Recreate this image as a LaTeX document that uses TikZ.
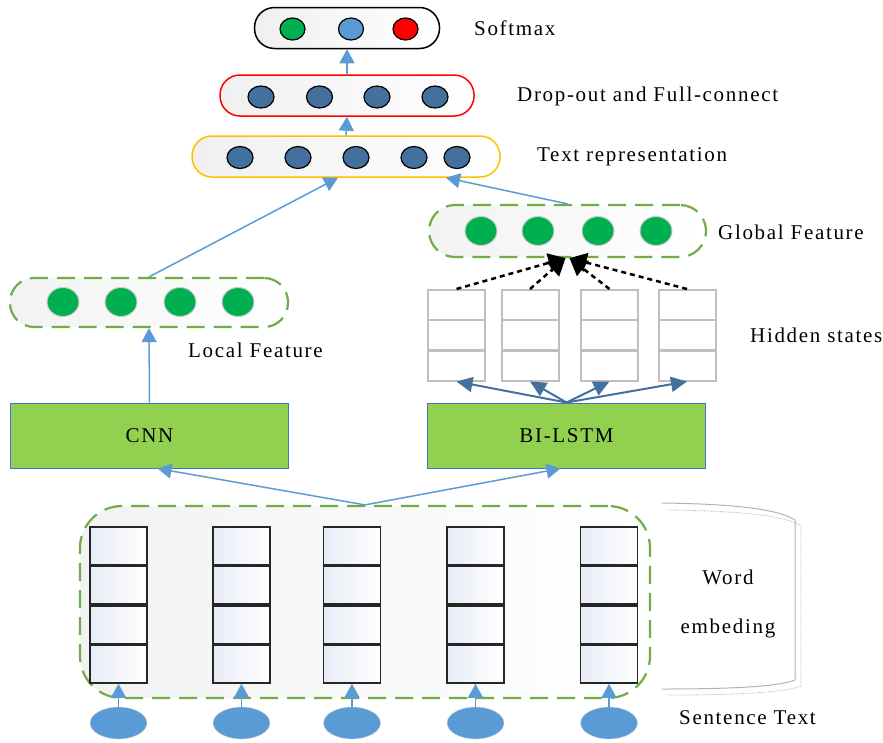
\documentclass[tikz,border=0pt]{standalone}
\usepackage{fontspec}
\setmainfont{Liberation Serif}
\newfontfamily\lblfont[LetterSpace=8]{Liberation Serif}
\usepackage{tikz}
\usetikzlibrary{positioning}
\usetikzlibrary{shapes.geometric}
\usetikzlibrary{arrows.meta}

\definecolor{lblue}{RGB}{91,155,213}
\definecolor{dblue}{RGB}{65,113,156}
\definecolor{nblue}{RGB}{68,112,157}
\definecolor{fgreen}{RGB}{0,176,80}
\definecolor{dgreen}{RGB}{112,173,71}
\definecolor{boxgreen}{RGB}{146,208,80}
\definecolor{bordblue}{RGB}{68,114,196}
\definecolor{amber}{RGB}{255,192,0}
\definecolor{paleblue}{RGB}{232,236,246}

\tikzset{
	layer/.style={draw, line width=1.5pt, rounded corners=20pt, minimum height=41pt, left color=black!6, right color=white, inner sep=0pt},
	feat/.style={draw=dgreen, line width=2.2pt, dash pattern=on 18pt off 9pt, rounded corners=24pt, left color=black!5, right color=white, inner sep=0pt},
	neuron/.style={ellipse, draw, line width=1.2pt, minimum width=25pt, minimum height=22pt, inner sep=0pt},
	fneuron/.style={ellipse, draw=black!20, line width=1pt, fill=fgreen, minimum width=32pt, minimum height=29pt, inner sep=0pt},
	block/.style={draw=bordblue, line width=1pt, fill=boxgreen, minimum width=278pt, minimum height=65pt, font=\lblfont\fontsize{21}{25}\selectfont},
	ecell/.style={draw=black!85, line width=1.5pt, minimum width=57pt, minimum height=38pt, left color=paleblue, right color=white, inner sep=0pt},
	hcell/.style={draw=black!25, line width=2pt, fill=white, minimum width=57pt, minimum height=30pt, inner sep=0pt},
	wordin/.style={ellipse, fill=lblue, draw=black!15, minimum width=57pt, minimum height=32pt, inner sep=0pt},
	lbl/.style={font=\lblfont\fontsize{21}{25}\selectfont, inner sep=0pt},
	flow/.style={lblue, line width=1.5pt, -{Triangle[width=15pt,length=14pt]}},
	tolstm/.style={dblue, line width=2pt, -{Triangle[width=15pt,length=16pt]}},
	attn/.style={black, line width=2.5pt, dash pattern=on 5pt off 4pt, -{Triangle[width=19pt,length=17pt]}},
}

\begin{document}
\begin{tikzpicture}[x=1pt, y=-1pt]
	\useasboundingbox (0,0) rectangle (883,742);

	% layers at the top
	\node[layer, minimum width=185pt] (soft) at (347,28) {};
	\node[layer, draw=red, minimum width=254pt] (drop) at (347,95.5) {};
	\node[layer, draw=amber, minimum width=308pt] (text) at (346,156.5) {};

	\node[neuron, fill=fgreen] (s1) at (292.5,29) {};
	\node[neuron, fill=lblue] (s2) at (351,29) {};
	\node[neuron, fill=red] (s3) at (405.5,29) {};

	\foreach \x [count=\i] in {261,319.5,377,435}
		\node[neuron, fill=nblue, minimum width=26pt] (d\i) at (\x,97) {};
	\foreach \x [count=\i] in {240,298,356,414,457}
		\node[neuron, fill=nblue, minimum width=26pt] (t\i) at (\x,157.5) {};

	% feature boxes
	\node[feat, minimum width=277pt, minimum height=52pt, rounded corners=26pt] (global) at (567.5,231) {};
	\node[feat, minimum width=278pt, minimum height=49pt] (local) at (149,302.5) {};
	\foreach \x [count=\i] in {481,538,598,656}
		\node[fneuron] (g\i) at (\x,231) {};
	\foreach \x [count=\i] in {63,121,180,238}
		\node[fneuron] (l\i) at (\x,302) {};

	% encoders
	\node[block] (cnn) at (149.5,435.5) {CNN};
	\node[block] (lstm) at (566.5,435.5) {BI-LSTM};

	% hidden states
	\foreach \x/\s [count=\i] in {456.5/-2,530/-2,609.5/2,687/2}{
		\node[hcell] (h\i1) at (\x,305) {};
		\node[hcell] (h\i2) at (\x,335) {};
		\node[hcell] (h\i3) at (\x,365.5) {};
		\draw[tolstm] (lstm.north) -- (h\i3.south);
		\draw[attn] (h\i1.north) -- ([xshift=\s pt]global.south);
	}

	% word embedding
	\node[feat, minimum width=570pt, minimum height=192pt, rounded corners=42pt] (embed) at (365,602) {};
	\foreach \x [count=\i] in {118.5,241.5,352,475.5,609}{
		\node[ecell] (e\i1) at (\x,546) {};
		\node[ecell] (e\i2) at (\x,585) {};
		\node[ecell] (e\i3) at (\x,625) {};
		\node[ecell] (e\i4) at (\x,664) {};
		\node[wordin] (w\i) at (\x,723) {};
		\draw[flow] (w\i) -- (e\i4);
	}

	% side panel of the word embedding
	\draw[densely dotted, lblue!70, line width=0.8pt] (668,510) .. controls (745,511) and (786,516) .. (801,526) -- (801,686) .. controls (786,692) and (745,695) .. (668,695);
	\draw[black!30, line width=1pt] (662,503) .. controls (740,504) and (780,510) .. (795,520) -- (795,680) .. controls (780,686) and (740,689) .. (662,689);

	% connections
	\draw[flow] (drop.north) -- (soft.south);
	\draw[flow] (text.north) -- (drop.south);
	\draw[flow] (local.north) -- ([xshift=-8pt]text.south);
	\draw[flow] (global.north) -- ([xshift=100pt]text.south);
	\draw[flow] (cnn.north) -- (local.south);
	\draw[flow] (embed.north) -- ([xshift=8pt]cnn.south);
	\draw[flow] (embed.north) -- ([xshift=-6pt]lstm.south);

	% labels
	\node[lbl, anchor=west] (lsoft) at (474,28) {Softmax};
	\node[lbl, anchor=west] (ldrop) at (517,96) {Drop-out and Full-connect};
	\node[lbl, anchor=west] (ltext) at (537,157) {Text representation};
	\node[lbl, anchor=west] (lglobal) at (718,232) {Global Feature};
	\node[lbl, anchor=west] (lhidden) at (750,335) {Hidden states};
	\node[lbl, anchor=west] (llocal) at (188,350) {Local Feature};
	\node[lbl] (lword) at (728,577) {Word};
	\node[lbl] (lembed) at (728,628) {embeding};
	\node[lbl, anchor=west] (lsent) at (679,718) {Sentence Text};
\end{tikzpicture}
\end{document}
